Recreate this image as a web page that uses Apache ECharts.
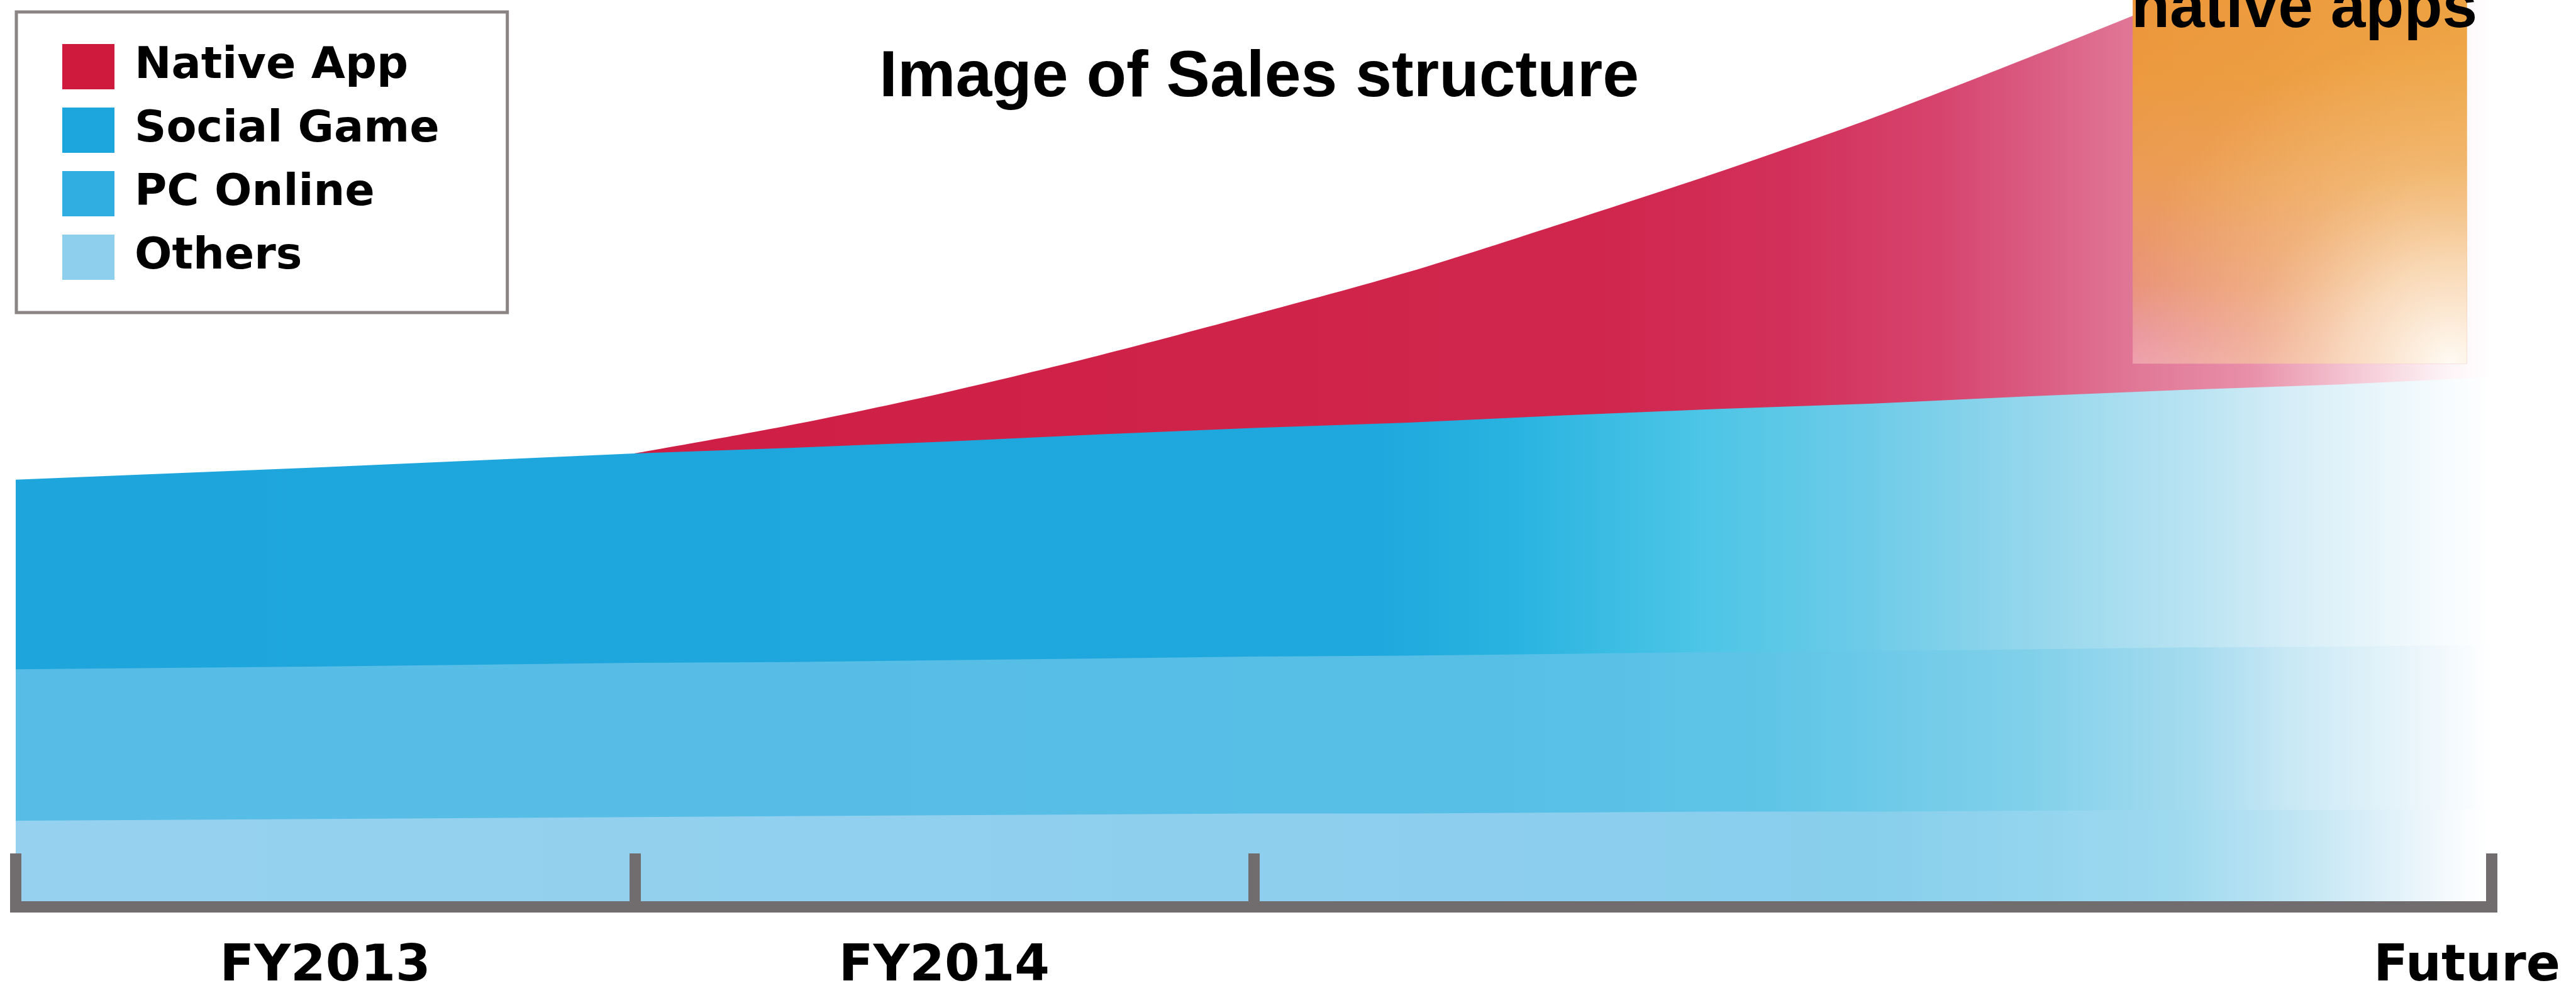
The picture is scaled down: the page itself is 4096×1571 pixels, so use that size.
<!DOCTYPE html>
<html>
<head>
<meta charset="utf-8">
<title>Image of Sales structure</title>
<script src="https://cdn.jsdelivr.net/npm/echarts@6/dist/echarts.min.js"></script>
<style>
  html, body { margin: 0; padding: 0; background: #ffffff; }
  #chart { width: 4096px; height: 1571px; }
</style>
</head>
<body>
<div id="chart"></div>
<script>
// Timeline positions: one unit per period slot (FY2013 = 0..1, FY2014 = 1..2, Future at the far end)
const positions = [0, 0.5, 1, 1.25, 1.5, 1.75, 2, 2.25, 2.5, 2.75, 3, 3.25, 3.5, 3.75, 4];

// Thickness of each sales layer at every position (bottom layer first)
const others     = [9.5, 9.7, 9.9, 10.0, 10.1, 10.2, 10.3, 10.3, 10.4, 10.5, 10.5, 10.6, 10.7, 10.7, 10.8];
const pcOnline   = [16.7, 16.8, 17.0, 17.0, 17.1, 17.2, 17.3, 17.4, 17.5, 17.6, 17.7, 17.8, 17.9, 18.0, 18.1];
const socialGame = [20.9, 22.0, 23.1, 23.6, 24.1, 24.7, 25.2, 25.7, 26.3, 26.8, 27.3, 27.9, 28.4, 28.9, 29.5];
const nativeApp  = [null, null, 0, 2.5, 5.4, 8.7, 12.5, 16.6, 21.2, 26.1, 31.5, 37.3, 43.5, 50.1, 57.2];

// Highlighted future native-app block: [start, end, bottom, top]
const futureBlock = [[3.42, 3.96, 59.9, 100]];

// Axis ticks and period labels
const tickPositions  = [0, 1, 2, 4];
const periodLabels   = ['FY2013', 'FY2014', 'Future'];
const labelPositions = [0.5, 1.5, 3.96];

const seriesNames = ['Native App', 'Social Game', 'PC Online', 'Others'];
const titleText = 'Image of Sales structure';
const calloutText = 'native apps';

// Cumulative tops of the stacked layers (bottom to top)
function stackTops(layers) {
  let acc = positions.map(() => 0);
  return layers.map(layer => {
    acc = acc.map((a, k) => layer[k] == null ? a : a + layer[k]);
    return acc.map((a, k) => layer[k] == null ? null : a);
  });
}
const [othersTop, pcTop, socialTop, nativeTop] = stackTops([others, pcOnline, socialGame, nativeApp]);

function toPairs(values) {
  return positions.map((p, k) => [p, values[k] == null ? '-' : values[k]]);
}

function hGrad(stops) {
  return new echarts.graphic.LinearGradient(0, 0, 1, 0,
    stops.map(([offset, color]) => ({ offset, color })));
}

// Each layer fades out toward the future end of the timeline
const layerDefs = [
  {
    name: 'Native App', color: '#cf1a3e', top: nativeTop,
    stops: [[0, '#cf1e45'], [0.52, '#d0264d'], [0.62, '#d2305a'], [0.70, '#d6436c'],
            [0.753, '#da5b82'], [0.807, '#e07797'], [0.87, '#e88fa9'], [0.93, '#f5cbd7'],
            [0.975, '#fdf3f6'], [1, '#ffffff']]
  },
  {
    name: 'Social Game', color: '#1da6de', top: socialTop,
    stops: [[0, '#1ea6dc'], [0.55, '#1fa8dd'], [0.605, '#29b3e0'], [0.68, '#4cc5e6'],
            [0.748, '#6dcbe8'], [0.8125, '#93d6ec'], [0.88, '#b9e3f2'], [0.918, '#d5edf7'],
            [0.978, '#f5fbfd'], [1, '#ffffff']]
  },
  {
    name: 'PC Online', color: '#31aee1', top: pcTop,
    stops: [[0, '#57bde6'], [0.6, '#57bee6'], [0.71, '#5fc5e7'], [0.8125, '#80d0ea'],
            [0.88, '#a5dbef'], [0.918, '#c8e8f5'], [0.978, '#f0f8fc'], [1, '#ffffff']]
  },
  {
    name: 'Others', color: '#8ecfee', top: othersTop,
    stops: [[0, '#96d2ef'], [0.6, '#8dceee'], [0.75, '#88cfec'], [0.87, '#9dd9ef'],
            [0.918, '#bde4f3'], [0.965, '#e5f3fa'], [0.99, '#fbfdfe'], [1, '#ffffff']]
  }
];

// Upper layers are painted first; each lower layer covers the fill below its own top edge
const areaSeries = layerDefs.map(def => ({
  name: def.name,
  type: 'line',
  data: toPairs(def.top),
  color: def.color,
  smooth: def.name === 'Native App' ? 0.3 : false,
  showSymbol: false,
  symbol: 'none',
  lineStyle: { width: 0 },
  areaStyle: { color: hGrad(def.stops), opacity: 1 },
  emphasis: { disabled: true },
  silent: true,
  z: 2
}));

const futureSeries = {
  type: 'custom',
  data: futureBlock,
  dimensions: ['start', 'end', 'bottom', 'top'],
  encode: { x: ['start', 'end'], y: ['bottom', 'top'] },
  silent: true,
  clip: false,
  z: 4,
  renderItem: function (params, api) {
    const topLeft = api.coord([api.value('start'), api.value('top')]);
    const bottomRight = api.coord([api.value('end'), api.value('bottom')]);
    const shape = {
      x: topLeft[0], y: topLeft[1],
      width: bottomRight[0] - topLeft[0], height: bottomRight[1] - topLeft[1]
    };
    return {
      type: 'group',
      children: [
        {
          type: 'rect', shape: shape,
          style: {
            fill: new echarts.graphic.LinearGradient(0, 0, 0, 1, [
              { offset: 0, color: '#ec963a' }, { offset: 0.2, color: '#ec993f' },
              { offset: 0.5, color: '#eb9c58' }, { offset: 0.78, color: '#e9937a' },
              { offset: 0.92, color: '#ea96a0' }, { offset: 1, color: '#ed9fb0' }
            ])
          }
        },
        {
          type: 'rect', shape: shape,
          style: {
            fill: new echarts.graphic.LinearGradient(0, 0, 1, 0, [
              { offset: 0, color: 'rgba(240,185,80,0)' },
              { offset: 1, color: 'rgba(240,185,80,0.35)' }
            ])
          }
        },
        {
          type: 'rect', shape: shape,
          style: {
            fill: new echarts.graphic.RadialGradient(0.95, 1, 1, [
              { offset: 0, color: 'rgba(255,252,245,0.98)' },
              { offset: 0.3, color: 'rgba(253,235,205,0.75)' },
              { offset: 0.6, color: 'rgba(250,215,160,0.35)' },
              { offset: 1, color: 'rgba(250,205,140,0)' }
            ])
          }
        }
      ]
    };
  }
};

const chart = echarts.init(document.getElementById('chart'), null, { renderer: 'canvas' });

const headingFont = { fontFamily: 'Liberation Sans', fontWeight: 'bold', fontSize: 104, lineHeight: 104, color: '#000000' };
const calloutFont = { fontFamily: 'Liberation Sans', fontWeight: 'bold', fontSize: 100, lineHeight: 100, color: '#000000' };

chart.setOption({
  backgroundColor: '#ffffff',
  animation: false,
  title: [
    { text: titleText, left: 2002, top: 72, padding: 0, textAlign: 'center', textVerticalAlign: 'top', textStyle: headingFont },
    { text: calloutText, left: 3664, top: -35, padding: 0, textAlign: 'center', textVerticalAlign: 'top', textStyle: calloutFont }
  ],
  legend: {
    data: seriesNames,
    orient: 'vertical',
    left: 26,
    top: 19,
    padding: [47, 108, 48, 73],
    itemWidth: 83,
    itemHeight: 72,
    itemGap: 21,
    icon: 'rect',
    selectedMode: false,
    backgroundColor: '#ffffff',
    borderColor: '#8b8484',
    borderWidth: 5,
    borderRadius: 0,
    itemStyle: { borderWidth: 0 },
    textStyle: {
      fontFamily: 'DejaVu Sans', fontWeight: 'bold', fontSize: 70, lineHeight: 70,
      color: '#000000', padding: [10, 0, 0, 27]
    }
  },
  grid: { left: 25, right: 134, top: 0, bottom: 129, containLabel: false, outerBoundsMode: 'none' },
  xAxis: {
    type: 'value',
    min: 0,
    max: 4,
    z: 10,
    axisLine: { show: true, onZero: false, lineStyle: { color: '#716d6e', width: 18, cap: 'square' } },
    axisTick: { show: true, inside: true, length: 85, customValues: tickPositions, lineStyle: { color: '#716d6e', width: 18 } },
    axisLabel: {
      show: true,
      customValues: labelPositions,
      formatter: function (v) {
        const i = labelPositions.findIndex(p => Math.abs(p - v) < 1e-6);
        return i >= 0 ? periodLabels[i] : '';
      },
      margin: 56,
      color: '#000000',
      fontFamily: 'DejaVu Sans',
      fontWeight: 'bold',
      fontSize: 80,
      lineHeight: 80
    },
    splitLine: { show: false }
  },
  yAxis: { type: 'value', min: 0, max: 100, show: false },
  series: [...areaSeries, futureSeries]
});
</script>
</body>
</html>
